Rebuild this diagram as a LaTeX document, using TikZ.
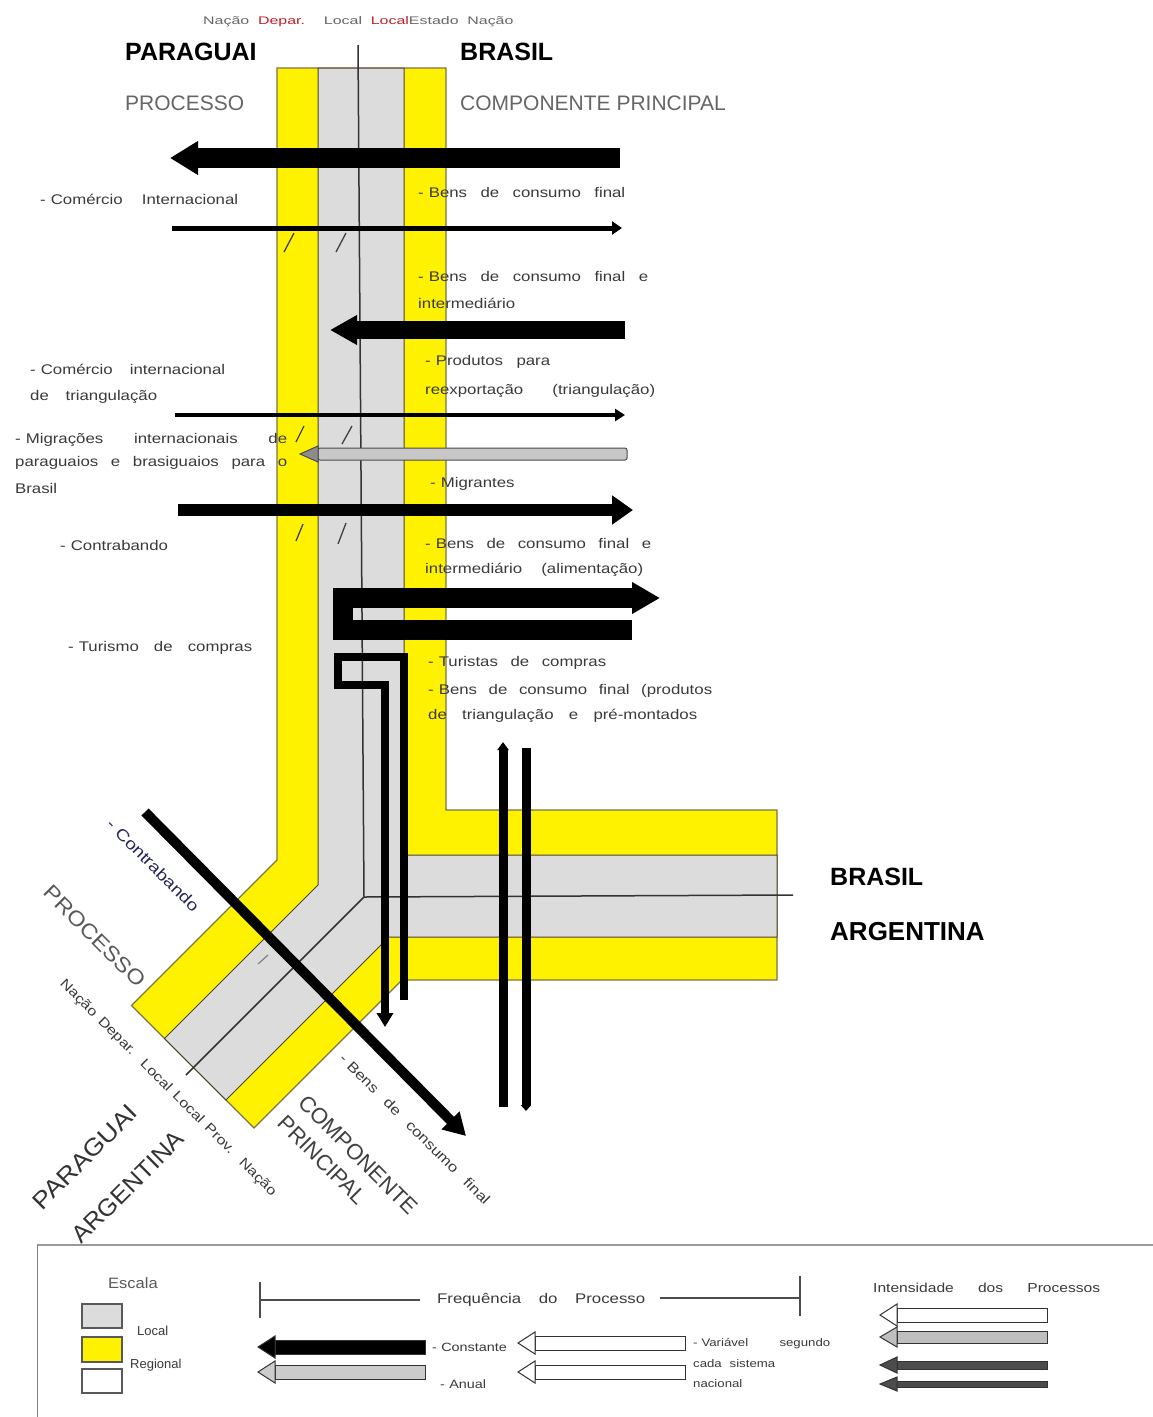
\documentclass[tikz,border=0pt]{standalone}
\usepackage{fontspec}
\setmainfont{Liberation Sans}
\usepackage{graphicx}
\usetikzlibrary{arrows.meta}
\definecolor{byellow}{HTML}{FFF200}
\definecolor{bgray}{HTML}{DCDCDC}
\definecolor{olivedge}{HTML}{7D7346}
\definecolor{txt}{HTML}{3A3A3A}
\definecolor{hdrred}{HTML}{C0202A}
\newcommand{\myfs}[1]{\fontsize{#1}{#1}\selectfont}
\newcommand{\dsh}{-\hspace{0.3em}}
\newcommand{\lab}[2]{\scalebox{1.2}[1]{\makebox[\dimexpr #1pt*10/12\relax][s]{#2}}}
\newcommand{\legarr}[5]{%
  \filldraw[fill=#5, draw=black!80, line width=1pt] (#1+17,#3-#4) rectangle (#2,#3+#4);
  \filldraw[fill=#5, draw=black!80, line width=1pt] (#1,#3) -- (#1+17,#3-#4-4) -- (#1+17,#3+#4+4) -- cycle;}
\tikzset{
  lbl/.style={anchor=west, inner sep=0pt, text=txt, font=\myfs{14}},
  dlbl/.style={inner sep=0pt, text=txt},
  bigbold/.style={anchor=west, inner sep=0pt, font=\bfseries\myfs{25}},
  greyhead/.style={anchor=west, inner sep=0pt, text=black!60, font=\myfs{21}},
  tickmark/.style={draw=black!75, line width=1.3pt},
  cline/.style={draw=black!80, line width=1.5pt},
  flowline/.style={draw=black, line cap=butt, line join=miter}
}
\begin{document}
\begin{tikzpicture}[x=1pt,y=-1pt]
\useasboundingbox (0,0) rectangle (1153,1417);
\fill[white] (0,0) rectangle (1153,1417);

% ---------- border band ----------
\filldraw[fill=byellow, draw=olivedge, line width=1.2pt]
  (277,68) -- (446,68) -- (446,810) -- (777,810) -- (777,980) -- (402,980)
  -- (254,1128) -- (131.5,1005.5) -- (277,860) -- cycle;
\filldraw[fill=bgray, draw=olivedge!60!black, line width=1pt]
  (318,68) -- (404,68) -- (404,855) -- (777,855) -- (777,937) -- (389,937)
  -- (226,1100) -- (164.5,1038.5) -- (318,885) -- cycle;
\coordinate (ctr) at (364,897);
\draw[cline] (358,45) -- (ctr) -- (793,895);
\draw[cline] (ctr) -- (186,1075);

% small marks
\draw[tickmark] (284,252) -- (294,233);
\draw[tickmark] (336,252) -- (346,233);
\draw[tickmark] (296,442) -- (304,426);
\draw[tickmark] (342,444) -- (352,426);
\draw[tickmark] (296,541) -- (303,524);
\draw[tickmark] (338,544) -- (346,523);
\draw[draw=black!50, line width=1.2pt] (258,964) -- (268,955);

% ---------- flows ----------
\draw[flowline, line width=20pt, -{Triangle[length=28pt,width=32pt]}] (620,158) -- (170,158);
\draw[flowline, line width=5pt, -{Triangle[length=10pt,width=13pt]}] (172,228) -- (622,228);
\draw[flowline, line width=18pt, -{Triangle[length=27pt,width=28pt]}] (625,330) -- (330,330);
\draw[flowline, line width=4pt, -{Triangle[length=10pt,width=12pt]}] (175,415) -- (625,415);
% grey arrow
\filldraw[fill=black!22, draw=black!70, line width=1pt, rounded corners=2pt] (318,448) rectangle (627,460);
\filldraw[fill=black!45, draw=black!70, line width=1pt] (300,454) -- (318,446) -- (318,462) -- cycle;
\draw[flowline, line width=12pt, -{Triangle[length=21pt,width=28pt]}] (178,510) -- (633,510);
% U arrow
\draw[flowline, line width=20pt, -{Triangle[length=28pt,width=30pt]}]
  (632,630) -- (343,630) -- (343,598) -- (660,598);
% hairpin
\draw[flowline, line width=8pt, -{Triangle[length=14pt,width=16pt]}]
  (404,1000) -- (404,657) -- (338,657) -- (338,685) -- (385,685) -- (385,1027);
% vertical pair
\draw[flowline, line width=9pt, -{Triangle[length=8pt,width=11pt]}] (503,1107) -- (503,742);
\draw[flowline, line width=9pt, -{Triangle[length=6pt,width=10pt]}] (526,748) -- (526,1111);
% diagonal
\draw[flowline, line width=10pt, -{Triangle[length=22pt,width=24pt]}] (145,812) -- (466,1136);

% ---------- header ----------
\node[anchor=west, inner sep=0pt, text=black!60, font=\myfs{11}] (hdr) at (203,22)
  {\scalebox{1.45}[1]{\makebox[214pt][s]{Nação {\color{hdrred}Depar.} Local {\color{hdrred}Local}Estado Nação}}};
\node[bigbold] (par) at (125,52) {PARAGUAI};
\node[bigbold] (bra) at (460,52) {BRASIL};
\node[greyhead] (proc) at (125,103) {PROCESSO};
\node[greyhead] (comp) at (460,103) {COMPONENTE PRINCIPAL};

% ---------- labels ----------
\node[lbl] (t1) at (40,199) {\lab{198}{\dsh Comércio Internacional}};
\node[lbl] (t2) at (418,192) {\lab{207}{\dsh Bens de consumo final}};
\node[lbl] (t3) at (418,276) {\lab{230}{\dsh Bens de consumo final e}};
\node[lbl] (t4) at (418,303) {\lab{102}{intermediário}};
\node[lbl] (t5) at (30,369) {\lab{195}{\dsh Comércio internacional}};
\node[lbl] (t6) at (30,397) {\lab{127}{de triangulação}};
\node[lbl] (t7) at (425,362) {\lab{125}{\dsh Produtos para}};
\node[lbl] (t8) at (425,391) {\lab{230}{reexportação (triangulação)}};
\node[lbl] (t9) at (15,440) {\lab{272}{\dsh Migrações internacionais de}};
\node[lbl] (t10) at (15,463) {\lab{272}{paraguaios e brasiguaios para o}};
\node[lbl] (t11) at (15,488) {\lab{42}{Brasil}};
\node[lbl] (t12) at (430,484) {\lab{90}{\dsh Migrantes}};
\node[lbl] (t13) at (60,545) {\lab{110}{\dsh Contrabando}};
\node[lbl] (t14) at (425,543) {\lab{226}{\dsh Bens de consumo final e}};
\node[lbl] (t15) at (425,570) {\lab{218}{intermediário (alimentação)}};
\node[lbl] (t16) at (68,648) {\lab{184}{\dsh Turismo de compras}};
\node[lbl] (t17) at (428,663) {\lab{178}{\dsh Turistas de compras}};
\node[lbl] (t18) at (428,691) {\lab{284}{\dsh Bens de consumo final (produtos}};
\node[lbl] (t19) at (428,716) {\lab{269}{de triangulação e pré-montados}};

\node[bigbold, font=\bfseries\myfs{25}] (bra2) at (830,877) {BRASIL};
\node[bigbold, font=\bfseries\myfs{26}] (arg2) at (830,932) {ARGENTINA};

% diagonal labels
\node[dlbl, rotate=-45, text=blue!25!black!85, font=\myfs{16}] (dcon) at (157,869) {\lab{134}{\dsh Contrabando}};
\node[dlbl, rotate=-45, text=black!65, font=\myfs{21}] (dproc) at (95,936) {\scalebox{1.12}[1]{PROCESSO}};
\node[dlbl, rotate=-45, font=\myfs{13.5}] (dnac) at (168,1088) {\lab{300}{Nação Depar. Local Local Prov. Nação}};
\node[dlbl, rotate=45, text=black!80, font=\myfs{24}] (dpar) at (85,1157) {\scalebox{1.12}[1]{PARAGUAI}};
\node[dlbl, rotate=45, text=black!80, font=\myfs{24}] (darg) at (128,1187) {\scalebox{1.05}[1]{ARGENTINA}};
\node[dlbl, rotate=-45, text=black!75, font=\myfs{22}] (dcomp) at (358,1155) {COMPONENTE};
\node[dlbl, rotate=-45, text=black!75, font=\myfs{22}] (dprin) at (322,1160) {PRINCIPAL};
\node[dlbl, rotate=-45, font=\myfs{14}] (dbens) at (415,1129) {\lab{206}{\dsh Bens de consumo final}};

% ---------- legend ----------
\draw[draw=black!40, line width=2.5pt] (37,1245) -- (1153,1245);
\draw[draw=black!50, line width=1pt] (37,1245) -- (37,1417);
\node[anchor=center, inner sep=0pt, text=black!65, font=\myfs{15}] (esc) at (133,1283) {\scalebox{1.1}[1]{Escala}};
\filldraw[fill=bgray, draw=black!65, line width=1.2pt] (82,1304) rectangle (122,1328);
\filldraw[fill=byellow, draw=black!65, line width=1.2pt] (82,1337) rectangle (122,1362);
\filldraw[fill=white, draw=black!65, line width=1.2pt] (82,1369) rectangle (122,1393);
\node[lbl, font=\myfs{13}] (loc) at (137,1331) {Local};
\node[lbl, font=\myfs{13}] (reg) at (130,1365) {Regional};

\draw[draw=black!70, line width=1.5pt] (260,1282) -- (260,1318);
\draw[draw=black!70, line width=1.5pt] (260,1300) -- (420,1300);
\draw[draw=black!70, line width=2.5pt] (660,1298) -- (800,1298);
\draw[draw=black!70, line width=1.5pt] (800,1276) -- (800,1316);
\node[lbl] (freq) at (437,1300) {\lab{208}{Frequência do Processo}};

\legarr{258}{425}{1347}{7}{black}
\legarr{258}{425}{1372}{7}{black!20}
\legarr{518}{685}{1343}{7}{white}
\legarr{518}{685}{1372}{7}{white}
\node[lbl, font=\myfs{12}] (cons) at (432,1347) {\lab{83}{\dsh Constante}};
\node[lbl, font=\myfs{12}] (anu) at (440,1384) {\lab{45}{\dsh Anual}};
\node[lbl, font=\myfs{11}] (var1) at (693,1344) {\lab{137}{\dsh Variável segundo}};
\node[lbl, font=\myfs{11}] (var2) at (693,1364) {\lab{82}{cada sistema}};
\node[lbl, font=\myfs{11}] (var3) at (693,1384) {\lab{62}{nacional}};

\node[lbl, font=\myfs{13}] (int) at (873,1288) {\lab{227}{Intensidade dos Processos}};
\legarr{880}{1047}{1315}{7}{white}
\legarr{880}{1047}{1337}{6}{black!25}
\legarr{880}{1047}{1365}{4}{black!70}
\legarr{880}{1047}{1384}{3}{black!70}
\end{tikzpicture}
\end{document}
